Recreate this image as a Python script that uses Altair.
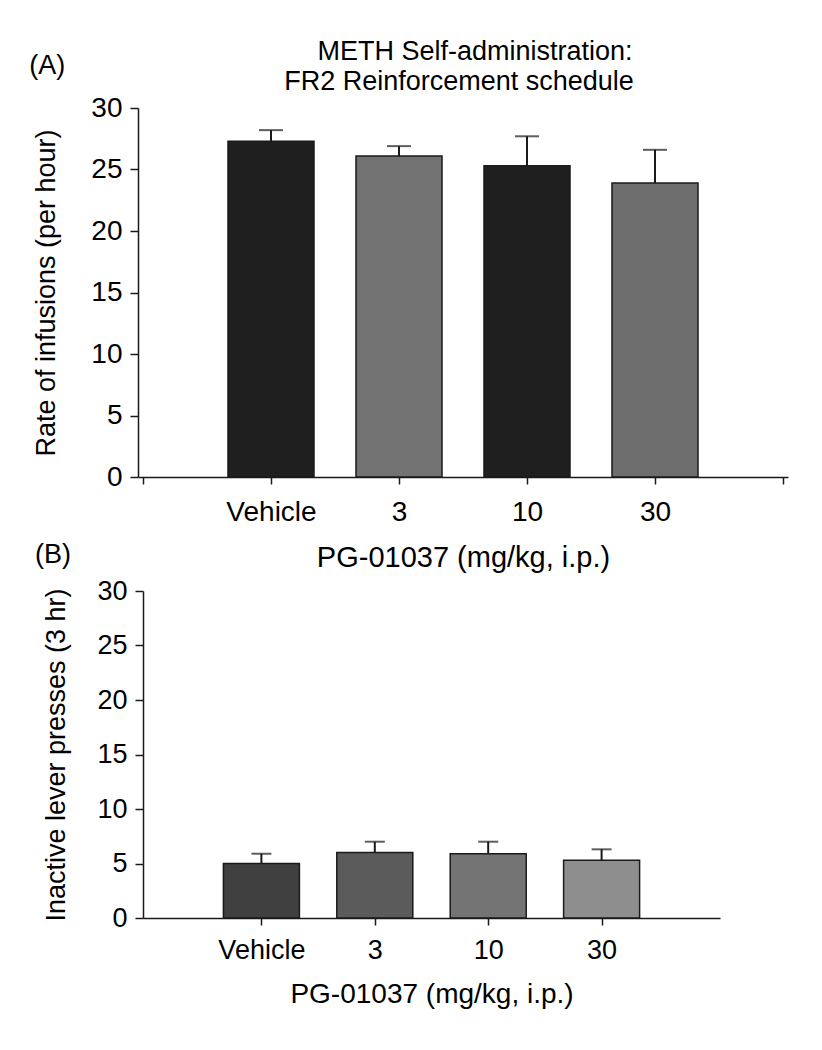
import altair as alt
import pandas as pd

# ---- data ----
categories = ["Vehicle", "3", "10", "30"]
positions = [1, 2, 3, 4]

infusion_rate = [27.3, 26.1, 25.3, 23.9]
infusion_upper = [28.2, 26.9, 27.7, 26.6]
infusion_colors = ["#1f1f1f", "#727272", "#1f1f1f", "#6e6e6e"]

inactive_presses = [5.0, 6.0, 5.9, 5.3]
inactive_upper = [5.9, 7.0, 7.0, 6.3]
inactive_colors = ["#404040", "#5b5b5b", "#747474", "#8e8e8e"]

y_ticks = [0, 5, 10, 15, 20, 25, 30]

title_lines = ["METH Self-administration:", "FR2 Reinforcement schedule"]
x_title = "PG-01037 (mg/kg, i.p.)"

FONT = "Liberation Sans"
INK = "#1a1a1a"

label_expr = " : ".join(
    f"datum.value == {p} ? '{c}'" for p, c in zip(positions, categories)
) + " : ''"

dfA = pd.DataFrame({"cat": categories, "pos": positions, "value": infusion_rate,
                    "upper": infusion_upper, "color": infusion_colors})
dfB = pd.DataFrame({"cat": categories, "pos": positions, "value": inactive_presses,
                    "upper": inactive_upper, "color": inactive_colors})


def panel(df, width, height, ytitle, xvalues, bar_size, cap_size,
          x_label_pad, y_title_pad, label_size, x_title_size, y_title_size,
          inset=0):
    xaxis = alt.Axis(values=xvalues, labelExpr=label_expr, title=x_title,
                     grid=False, tickSize=7, labelPadding=x_label_pad, titlePadding=17,
                     labelFontSize=label_size, titleFontSize=x_title_size, labelAngle=0,
                     titleFontWeight="normal")
    yaxis = alt.Axis(values=y_ticks, title=ytitle, grid=False, tickSize=8,
                     labelPadding=8, titlePadding=y_title_pad, labelFontSize=label_size,
                     titleFontSize=y_title_size, titleFontWeight="normal",
                     offset=-inset)
    xs = alt.Scale(domain=[0, 5], nice=False, zero=False, range=[inset, width + inset])
    ys = alt.Scale(domain=[0, 30], nice=False)
    x = alt.X("pos:Q", scale=xs, axis=xaxis)
    bars = alt.Chart(df).mark_bar(size=bar_size, stroke=INK, strokeWidth=1.5).encode(
        x=x,
        y=alt.Y("value:Q", scale=ys, axis=yaxis),
        color=alt.Color("color:N", scale=None),
    )
    rule = alt.Chart(df).mark_rule(color=INK, strokeWidth=2).encode(
        x=x,
        y=alt.Y("value:Q", scale=ys, axis=yaxis),
        y2="upper:Q",
    )
    cap = alt.Chart(df).mark_tick(color=INK, thickness=2, size=cap_size, orient="horizontal").encode(
        x=x,
        y=alt.Y("upper:Q", scale=ys, axis=yaxis),
    )
    return alt.layer(bars, rule, cap).properties(width=width + inset, height=height)


def label(text, size, x, y, align="center"):
    return alt.Chart(pd.DataFrame({"t": [text]})).mark_text(
        fontSize=size, font=FONT, align=align, baseline="middle", color="black"
    ).encode(text="t:N", x=alt.value(x), y=alt.value(y))


chartA = alt.layer(
    panel(dfA, 650, 369, "Rate of infusions (per hour)", [0, 1, 2, 3, 4, 5], 86, 24,
          14, 30, 28, 29, 27),
    label(title_lines[0], 27, 337, -56),
    label(title_lines[1], 27, 321, -26),
    label("(A)", 27, -90.7, -42),
    label("(B)", 27, -85, 447),
)

# panel B sits about 5 px further right than panel A in the figure
chartB = panel(dfB, 577, 327, "Inactive lever presses (3 hr)", [1, 2, 3, 4], 76, 20,
               12, 26, 27, 28, 27, inset=5)

chart = alt.vconcat(chartA, chartB, spacing=5).properties(
    padding={"left": 21, "top": 30, "right": 5, "bottom": 5},
    background="white",
).configure_axis(
    labelFont=FONT, titleFont=FONT, labelColor="black", titleColor="black",
    titleFontWeight="normal", domainColor=INK, tickColor=INK,
    domainWidth=1.5, tickWidth=1.5,
).configure_view(strokeWidth=0)

chart.save("out.html", embed_options={"renderer": "svg", "actions": False})
